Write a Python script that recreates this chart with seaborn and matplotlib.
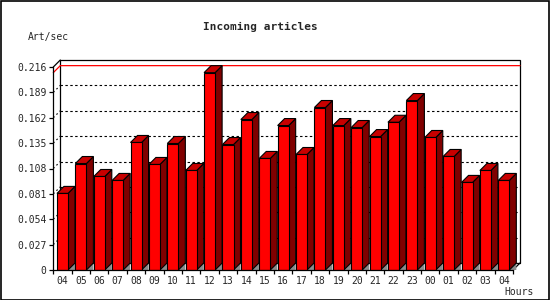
import matplotlib
matplotlib.use("Agg")
import matplotlib.pyplot as plt
from matplotlib.patches import Polygon, Rectangle
import numpy as np
import pandas as pd
import seaborn as sns

hours = ["04", "05", "06", "07", "08", "09", "10", "11", "12", "13", "14", "15",
         "16", "17", "18", "19", "20", "21", "22", "23", "00", "01", "02", "03", "04"]
rates = [0.0815, 0.1133, 0.0995, 0.0953, 0.1357, 0.1123, 0.1346, 0.1059, 0.2100,
         0.1335, 0.1601, 0.1187, 0.1537, 0.1229, 0.1729, 0.1537, 0.1516, 0.1420,
         0.1572, 0.1803, 0.1410, 0.1208, 0.0932, 0.1059, 0.0953]
yticks = [0, 0.027, 0.054, 0.081, 0.108, 0.135, 0.162, 0.189, 0.216]
ytick_labels = ["0", "0.027", "0.054", "0.081", "0.108", "0.135", "0.162", "0.189", "0.216"]
title = "Incoming articles"
ylabel = "Art/sec"
xlabel = "Hours"

sns.set_theme(style="white")
plt.rcParams["font.family"] = ["DejaVu Sans Mono", "DejaVu Sans"]

W, H = 550, 300
fig = plt.figure(figsize=(5.5, 3), dpi=100)
fig.patch.set_facecolor("white")

# front plot area in pixels
L, R, T, B = 53.3, 513.0, 67.0, 270.0
ax = fig.add_axes([L / W, (H - B) / H, (R - L) / W, (B - T) / H])
ax.set_facecolor("none")

n = len(rates)
ymax = 0.216
ax.set_xlim(-0.5, n - 0.5)
ax.set_ylim(0, ymax)

# depth offsets (7 px) in data units
dx = 7.0 / ((R - L) / n)
dy = 7.0 * ymax / (B - T)

x0, x1 = -0.5, n - 0.5
kw = dict(clip_on=False)

# back wall
ax.add_patch(Rectangle((x0 + dx, dy), x1 - x0, ymax, facecolor="white",
                       edgecolor="black", linewidth=0.9, zorder=0.2, **kw))
# dashed grid lines on back wall + depth connectors on left
for v in yticks[1:-1]:
    ax.plot([x0 + dx, x1 + dx], [v + dy, v + dy], color="black", lw=0.8,
            dashes=(2.2, 2.2), zorder=0.3, **kw)
    ax.plot([x0, x0 + dx], [v, v + dy], color="black", lw=0.8,
            dashes=(1.5, 2.5), zorder=0.3, **kw)
# back bottom line
ax.plot([x0 + dx, x1 + dx], [dy, dy], color="black", lw=0.8, zorder=0.3, **kw)
# top-left and bottom-right depth diagonals
ax.plot([x0, x0 + dx], [ymax, ymax + dy], color="black", lw=0.9, zorder=0.3, **kw)
ax.plot([x1, x1 + dx], [0, dy], color="black", lw=0.9, zorder=0.3, **kw)

# max line (red)
mx = max(rates)
ax.plot([x0, x0 + dx, x1 + dx], [mx, mx + dy, mx + dy], color="#ff0000",
        lw=0.9, zorder=0.4, **kw)

df = pd.DataFrame({"slot": np.arange(n), "rate": rates})
sns.barplot(data=df, x="slot", y="rate", color="#ff0000", saturation=1,
            width=0.6, edgecolor="black", linewidth=0.8, ax=ax, zorder=3)

for p in list(ax.patches):
    if not isinstance(p, Rectangle) or p.get_facecolor()[0] < 0.9 or p.get_height() <= 0:
        continue
    if p.get_width() > 1:
        continue
    bx = p.get_x()
    bw = p.get_width()
    h = p.get_height()
    xr = bx + bw
    # floor shadow
    ax.add_patch(Polygon([(xr, 0), (xr + dx, dy), (xr + dx, 0)], closed=True,
                         facecolor="#8c8c8c", edgecolor="none", zorder=2.5, **kw))
    # side face
    ax.add_patch(Polygon([(xr, 0), (xr + dx, dy), (xr + dx, h + dy), (xr, h)],
                         closed=True, facecolor="#800000", edgecolor="black",
                         linewidth=0.8, zorder=2.8, **kw))
    # top face
    ax.add_patch(Polygon([(bx, h), (bx + dx, h + dy), (xr + dx, h + dy), (xr, h)],
                         closed=True, facecolor="#c80000", edgecolor="black",
                         linewidth=0.8, zorder=2.8, **kw))

# axes / ticks
for s in ["top", "right"]:
    ax.spines[s].set_visible(False)
for s in ["left", "bottom"]:
    ax.spines[s].set_color("black")
    ax.spines[s].set_linewidth(0.9)
    ax.spines[s].set_zorder(4)

ax.set_yticks(yticks)
ax.set_yticklabels(ytick_labels)
ax.set_xticks(np.arange(n))
ax.set_xticklabels(hours)
ax.set_xticks(np.arange(n + 1) - 0.5, minor=True)
ax.tick_params(axis="y", which="major", direction="out", length=3, width=0.9,
               color="black", pad=2, labelsize=7, left=True)
ax.tick_params(axis="x", which="major", length=0, pad=4, labelsize=7)
ax.tick_params(axis="x", which="minor", direction="out", length=3, width=0.9,
               color="black", bottom=True)
ax.set_xlabel("")
ax.set_ylabel("")
ax.grid(False)

fig.text(260 / W, 1 - 26.7 / H, title, ha="center", va="center",
         fontsize=8, fontweight="bold")
fig.text(28 / W, 1 - 37.3 / H, ylabel, ha="left", va="center", fontsize=7)
fig.text(504 / W, 1 - 292 / H, xlabel, ha="left", va="center", fontsize=7)

# outer frame
fig.add_artist(Rectangle((0.5 / W, 0.5 / H), 1 - 1.5 / W, 1 - 1.5 / H,
                         transform=fig.transFigure, fill=False,
                         edgecolor="black", linewidth=1.2))

fig.savefig("out.png", dpi=100, facecolor="white")
